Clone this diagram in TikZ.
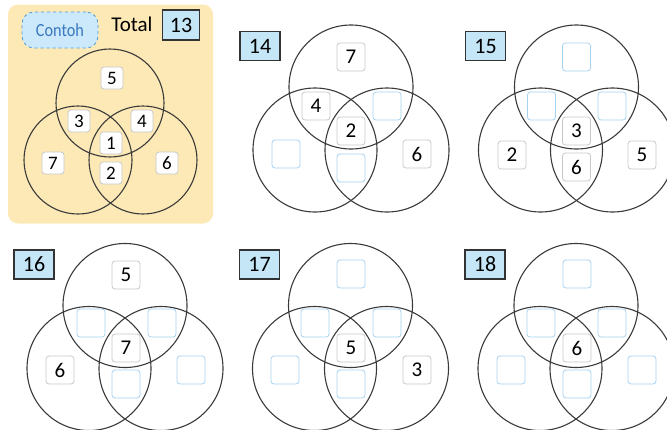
\documentclass[tikz,border=0pt]{standalone}
\usepackage{fontspec}
\setmainfont{Carlito}
\usetikzlibrary{calc}
\definecolor{bgorange}{HTML}{FDE9B6}
\definecolor{lblue}{HTML}{C4E6F6}
\definecolor{cfill}{HTML}{CBE9FA}
\definecolor{cborder}{HTML}{4A98D8}
\definecolor{ctext}{HTML}{3A78C0}
\definecolor{circ}{HTML}{3A3A3A}
\definecolor{nborder}{HTML}{C8C8C8}
\definecolor{eborder}{HTML}{A6D2F2}
\tikzset{
  vcirc/.style={draw=circ, line width=1.1pt},
  nbox/.style={draw=nborder, fill=white, line width=0.8pt, rounded corners=3pt, minimum width=28pt, minimum height=28pt, inner sep=0pt, font=\fontsize{21}{24}\selectfont},
  ebox/.style={nbox, draw=eborder},
  sbox/.style={nbox, minimum width=22pt, minimum height=22pt, font=\fontsize{19}{22}\selectfont},
  lbox/.style={draw=black!80, fill=lblue, line width=1.4pt, minimum width=40pt, minimum height=29pt, inner sep=0pt, font=\fontsize{22}{24}\selectfont},
}
\newcommand\vennpanel[4]{%
  \coordinate (#1-t) at (#2,#3);
  \coordinate (#1-l) at (#2-36,#3+63);
  \coordinate (#1-r) at (#2+36,#3+63);
  \draw[vcirc] (#1-t) circle (62pt);
  \draw[vcirc] (#1-l) circle (62pt);
  \draw[vcirc] (#1-r) circle (62pt);
  \node[lbox] (#1-lab) at (#2-91,#3-41) {#4};
}
\begin{document}
\begin{tikzpicture}[x=1pt,y=-1pt]
\useasboundingbox (0,0) rectangle (667,429);
% example panel
\node[fill=bgorange, rounded corners=10pt, minimum width=205pt, minimum height=219pt, inner sep=0pt] (bg) at (110.5,114) {};
\node[fill=cfill, draw=cborder, dashed, line width=0.8pt, rounded corners=12pt, minimum width=76pt, minimum height=36pt, inner sep=0pt, text=ctext, font=\fontsize{18.5}{20}\selectfont] (contoh) at (60,30) {\scalebox{0.88}[1]{Contoh}};
\node[font=\fontsize{21}{24}\selectfont, inner sep=0pt] (total) at (132,24) {Total};
\node[lbox, minimum width=37pt, minimum height=30pt] (totbox) at (181,25) {13};
\coordinate (e-t) at (110,103);
\coordinate (e-l) at (78,160);
\coordinate (e-r) at (143,160);
\draw[vcirc] (e-t) circle (54pt);
\draw[vcirc] (e-l) circle (54pt);
\draw[vcirc] (e-r) circle (54pt);
\node[sbox] (e1) at (112,78) {5};
\node[sbox] (e2) at (79,121) {3};
\node[sbox] (e3) at (142,121) {4};
\node[sbox] (e4) at (111,143) {1};
\node[sbox] (e5) at (111,173) {2};
\node[sbox] (e6) at (53,163) {7};
\node[sbox] (e7) at (167,163) {6};
% panel 14
\vennpanel{p14}{351}{87}{14}
\node[nbox] (p14a) at (351,57) {7};
\node[nbox] (p14b) at (316,106) {4};
\node[ebox] (p14c) at (387,106) {};
\node[nbox] (p14d) at (351,131) {2};
\node[ebox] (p14e) at (286,154) {};
\node[nbox] (p14f) at (417,154) {6};
\node[ebox] (p14g) at (351,168) {};
% panel 15
\vennpanel{p15}{576.5}{87}{15}
\node[ebox] (p15a) at (576.5,57) {};
\node[ebox] (p15b) at (541.5,106) {};
\node[ebox] (p15c) at (612,106) {};
\node[nbox] (p15d) at (576.5,131) {3};
\node[nbox] (p15g) at (576.5,167) {6};
\node[nbox] (p15e) at (512,155) {2};
\node[nbox] (p15f) at (642,155) {5};
% panel 16
\vennpanel{p16}{125}{305.5}{16}
\node[nbox] (p16a) at (126,275) {5};
\node[ebox] (p16b) at (91,323) {};
\node[ebox] (p16c) at (162,323) {};
\node[nbox] (p16d) at (126,348) {7};
\node[nbox] (p16e) at (60,370) {6};
\node[ebox] (p16f) at (191,370) {};
\node[ebox] (p16g) at (126,384) {};
% panel 17
\vennpanel{p17}{350.5}{305.5}{17}
\node[ebox] (p17a) at (351,274) {};
\node[ebox] (p17b) at (315,323) {};
\node[ebox] (p17c) at (387,323) {};
\node[nbox] (p17d) at (351,348) {5};
\node[ebox] (p17e) at (285,370) {};
\node[nbox] (p17f) at (417,370) {3};
\node[ebox] (p17g) at (351,384) {};
% panel 18
\vennpanel{p18}{576}{305.5}{18}
\node[ebox] (p18a) at (577,274) {};
\node[ebox] (p18b) at (541,323) {};
\node[ebox] (p18c) at (612,323) {};
\node[nbox] (p18d) at (577,348) {6};
\node[ebox] (p18e) at (511,370) {};
\node[ebox] (p18f) at (642,370) {};
\node[ebox] (p18g) at (577,384) {};
\end{tikzpicture}
\end{document}
